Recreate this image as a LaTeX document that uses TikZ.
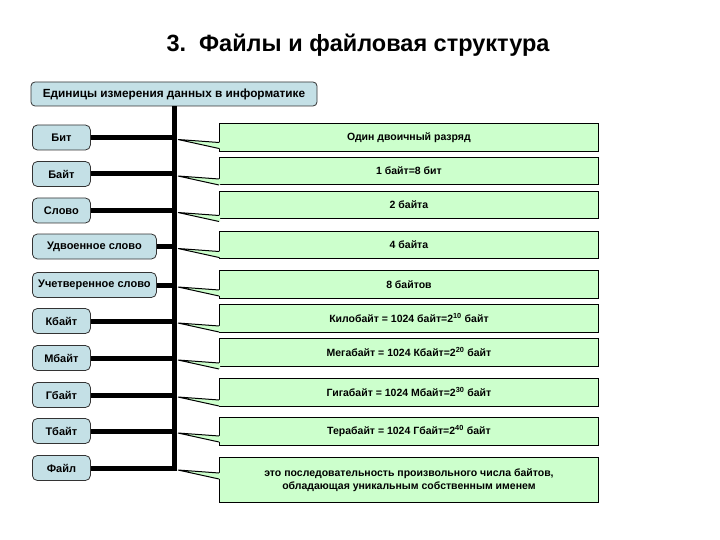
\documentclass[tikz,border=0pt]{standalone}
\usepackage{fontspec}
\setmainfont{Liberation Sans}
\usepackage{tikz}
\usetikzlibrary{calc,positioning}
\definecolor{unitc}{RGB}{196,224,230}
\definecolor{descc}{RGB}{204,255,204}
\tikzset{
  head/.style={rectangle,rounded corners=4pt,draw=black!80,fill=unitc,line width=0.8pt,minimum width=286pt,minimum height=24pt,inner sep=1pt,font=\bfseries\fontsize{11.8}{13}\selectfont},
  unit/.style={rectangle,rounded corners=5pt,draw=black!80,fill=unitc,line width=0.8pt,minimum height=25pt,inner xsep=0pt,inner ysep=1pt,font=\bfseries\fontsize{11}{13}\selectfont},
  desc/.style={rectangle,draw=black,fill=descc,line width=0.9pt,minimum width=379pt,inner sep=2pt,align=center,font=\bfseries\fontsize{10.5}{13.5}\selectfont},
  bar/.style={line width=5pt,black},
  ptr/.style={line width=1pt,black,line join=miter},
}
\begin{document}
\begin{tikzpicture}[x=1pt,y=-1pt]
  \useasboundingbox (0,0) rectangle (720,540);
  \node[font=\bfseries\fontsize{23.5}{28}\selectfont] (title) at (358,45) {3.\ \ Файлы и файловая структура};
  \node[head] (head) at (174,94) {Единицы измерения данных в информатике};
  % units on the left
  \foreach \i/\y/\w/\txt in {1/137.5/58/Бит,2/174/58/Байт,3/210.5/58/Слово,
      4/246.5/124/Удвоенное слово,5/285/124/Учетверенное слово,6/321/58/Кбайт,
      7/358/58/Мбайт,8/395/58/Гбайт,9/431/58/Тбайт,10/468/58/Файл}{
     \node[unit,minimum width=\w pt,anchor=west] (u\i) at (32,\y) {\txt};}
  % spine
  \draw[bar] (head.south) -- ($(u10.east -| head.south)+(0,2.5)$);
  % descriptions on the right
  \foreach \i/\t/\h/\txt in {1/123/28/{Один двоичный разряд},2/157/27/{1 байт=8 бит},
      3/191/27/{2 байта},4/231/27/{4 байта},5/270/28/{8 байтов},
      6/304/28/{Килобайт = 1024 байт=2\textsuperscript{10} байт},
      7/338/28/{Мегабайт = 1024 Кбайт=2\textsuperscript{20} байт},
      8/378/28/{Гигабайт = 1024 Мбайт=2\textsuperscript{30} байт},
      9/417/28/{Терабайт = 1024 Гбайт=2\textsuperscript{40} байт},
      10/457/45/{это последовательность произвольного числа байтов,\\обладающая уникальным собственным именем}}{
     \node[desc,minimum height=\h pt,anchor=north west] (d\i) at (219,\t) {\txt};}
  % bars and callout pointers
  \foreach \i in {1,...,10}{
     \draw[bar] (u\i.east) -- (u\i.east -| head.south);
     \coordinate (t\i) at ($(u\i.east -| head.south)+(4,2)$);
     \fill[descc] (t\i) -- ($(d\i.west |- t\i)+(1,3)$) -- ($(d\i.west |- t\i)+(1,9)$) -- cycle;
     \draw[ptr] ($(d\i.west |- t\i)+(0,3)$) -- (t\i) -- ($(d\i.west |- t\i)+(0,9)$);}
\end{tikzpicture}
\end{document}
